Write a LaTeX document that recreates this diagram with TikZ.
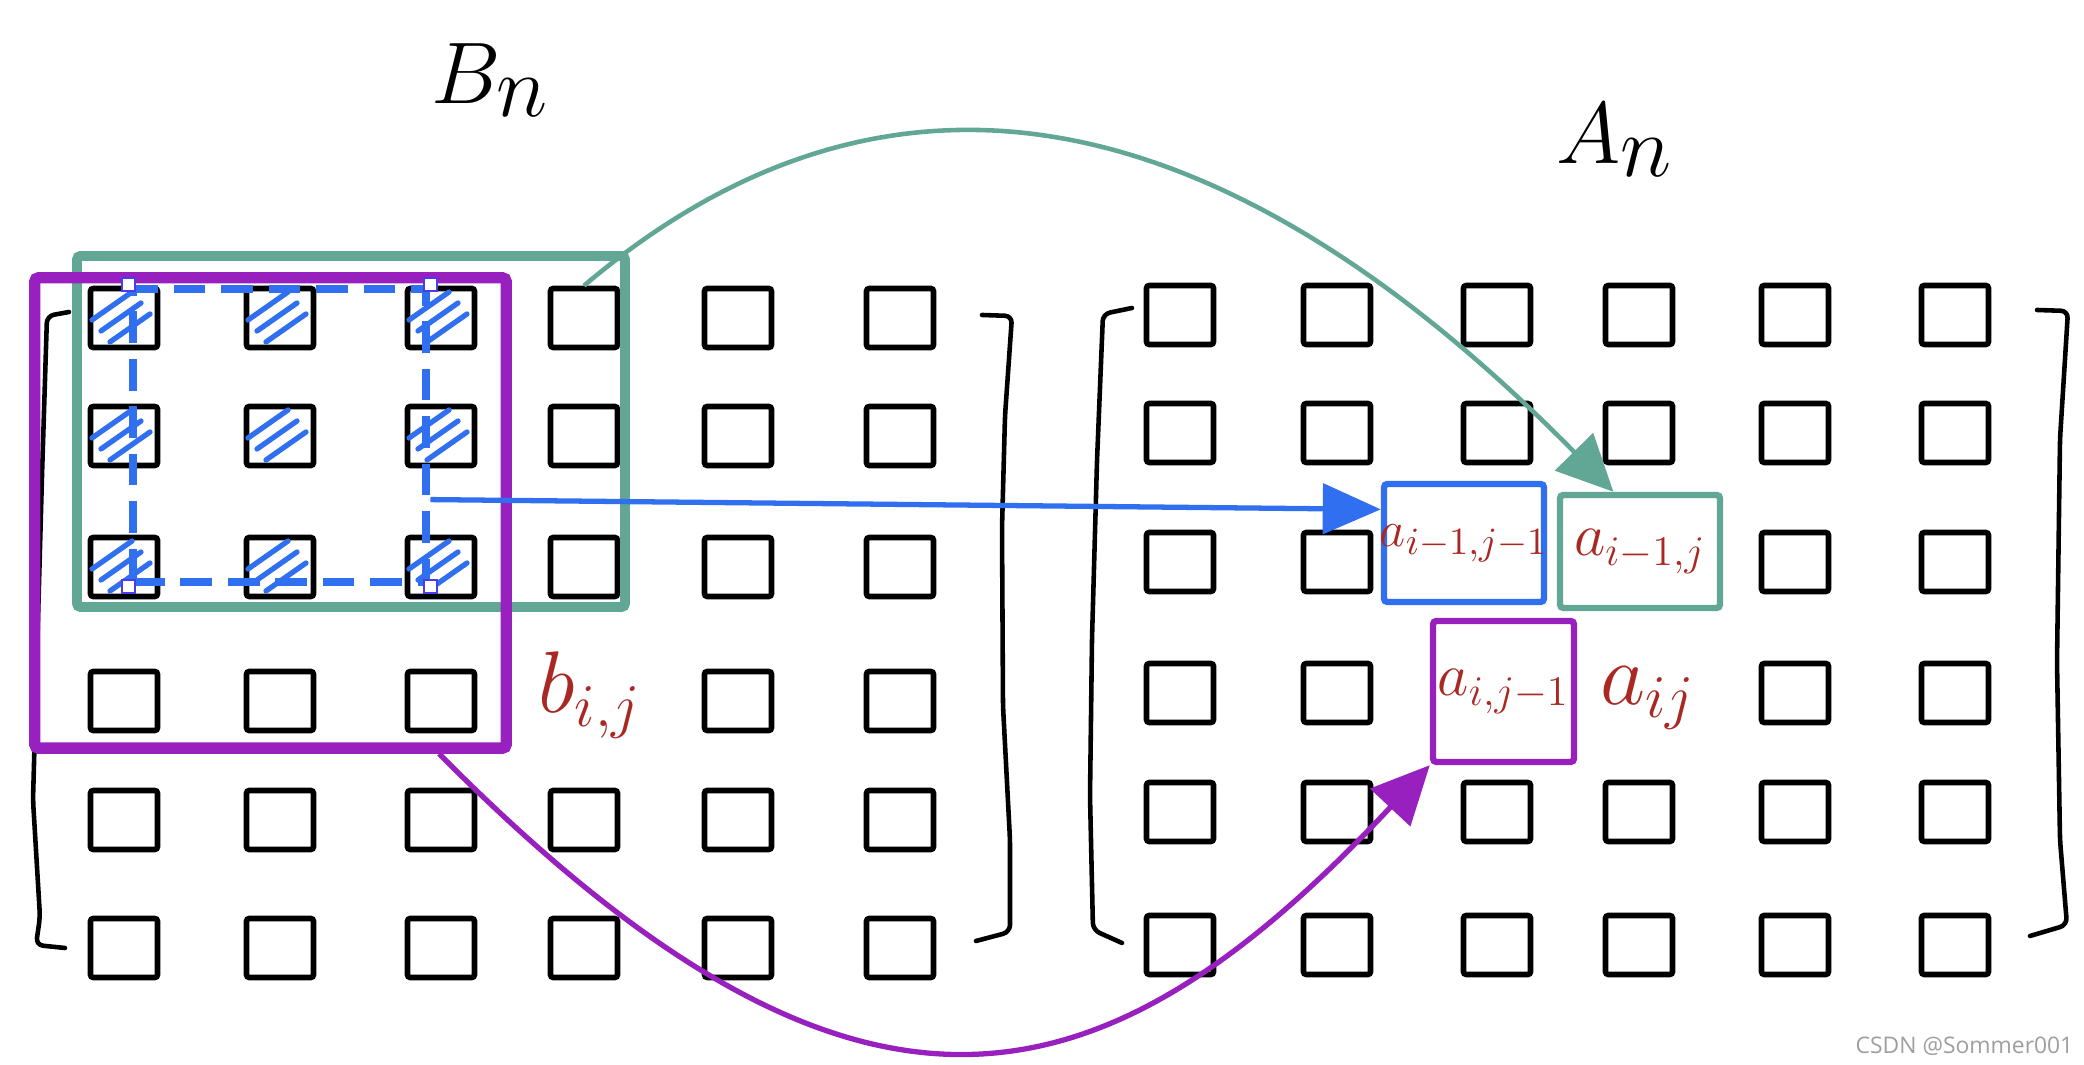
\documentclass[tikz,border=0pt]{standalone}
\usepackage{fontspec}
\usepackage{amsmath}
\usepackage{tikz}
\usetikzlibrary{arrows.meta,positioning,calc}
\newfontfamily\wmfont{Open Sans}
\definecolor{sage}{HTML}{62A696}
\definecolor{grape}{HTML}{9820BE}
\definecolor{azure}{HTML}{3070F0}
\definecolor{rust}{HTML}{AA2823}
\definecolor{gripline}{HTML}{4A3CE8}
\tikzset{
  cell/.style={rectangle, draw=black, line width=1.6pt, rounded corners=0.8pt, minimum width=6.7mm,
               minimum height=5.9mm, inner sep=0pt},
  entry/.style={text=rust, inner sep=0pt, font=\fontsize{16}{19}\selectfont},
  bigentry/.style={entry, font=\fontsize{24}{28}\selectfont},
  pick/.style={rectangle, line width=1.8pt, rounded corners=1pt, inner sep=0pt},
  title/.style={font=\fontsize{38}{44}\selectfont, inner sep=0pt},
  hatch/.style={draw=azure, line width=1.5pt, line cap=round},
  window/.style={rectangle, draw=azure, line width=2.5pt, dash pattern=on 9pt off 4.5pt,
                 minimum width=29.3mm, minimum height=29.3mm, inner sep=0pt},
  grip/.style={rectangle, draw=gripline, fill=white, line width=0.5pt, minimum size=1.3mm, inner sep=0pt},
  bracket/.style={draw=black, line width=1.3pt, line cap=round, line join=round, rounded corners=2pt},
  link/.style={line width=1.3pt}
}

\begin{document}
\begin{tikzpicture}[x=0.01cm, y=-0.01cm]
 \useasboundingbox[fill=white] (0,0) rectangle (2084,1065);
 % B_n cells, (4,4) holds b_{i,j}
 \foreach \x [count=\c] in {124,280,441,584,738,900}
  \foreach \y [count=\r] in {318,436,567,701,820,948}
   {\ifnum\r\c=44 \else \node[cell] (b-\r-\c) at (\x,\y) {}; \fi}
 % A_n cells, the four picked ones are drawn below
 \foreach \x [count=\c] in {1180,1337,1497,1639,1795,1955}
  \foreach \y [count=\r] in {315,433,562,693,812,945}
   {\ifnum\r\c=33 \else\ifnum\r\c=34 \else\ifnum\r\c=43 \else\ifnum\r\c=44 \else
     \node[cell] (a-\r-\c) at (\x,\y) {}; \fi\fi\fi\fi}
 \foreach \r in {1,2,3}
  \foreach \c in {1,2,3}
   \foreach \k in {0,1,2}
    \draw[hatch] ([shift={({-32+9*\k},{2+11*\k})}]b-\r-\c.center) -- ++(40,-28);
 % brackets
 \draw[bracket] (69,312) -- (47,316) -- (42,476) -- (33,800) -- (40,917) -- (36,945) -- (65,948);
 \draw[bracket] (982,315) -- (1012,316) -- (1005,416) -- (1002,528) -- (1003,706) -- (1010,840) -- (1010,932) -- (976,941);
 \draw[bracket] (1132,308) -- (1103,314) -- (1097,461) -- (1092,639) -- (1090,796) -- (1093,930) -- (1122,943);
 \draw[bracket] (2037,310) -- (2068,311) -- (2060,439) -- (2057,662) -- (2060,840) -- (2067,925) -- (2030,936);
 % frames on B_n
 \draw[sage, line width=2.8pt, rounded corners=1pt] (77,256) rectangle (625,607);
 \node[rectangle, draw=grape, line width=3.2pt, rounded corners=1pt, minimum width=47.1mm,
       minimum height=47mm, inner sep=0pt] (bwin) at (270.5,513) {};
 \node[window] (win) at (279.5,435.5) {};
 \foreach \a [count=\i] in {north west,north east,south east,south west}
  \node[grip] (g\i) at (win.\a) {};
 % picked entries of A_n
 \node[pick, draw=azure, minimum width=16mm, minimum height=11.8mm] (aul) at (1464,543) {};
 \node[entry, font=\fontsize{15}{18}\selectfont] at (aul) {$a_{i-1,j-1}$};
 \node[pick, draw=sage, minimum width=16mm, minimum height=11.3mm] (aup) at (1640,551.5) {};
 \node[entry, font=\fontsize{18}{21}\selectfont] at (aup) {$a_{i-1,j}$};
 \node[pick, draw=grape, minimum width=14.1mm, minimum height=14.1mm] (alf) at (1503.5,691.5) {};
 \node[entry, font=\fontsize{17}{20}\selectfont] at (alf) {$a_{i,j-1}$};
 \node[bigentry] (aij) at (1648,698) {$a_{ij}$};
 \node[bigentry] (bij) at (590,695) {$b_{i,j}$};
 \node[title] (bn) at (490,80) {$B_n$};
 \node[title] (an) at (1615,140) {$A_n$};
 % where each value comes from
 \draw[link, azure, line width=1.5pt, -{Triangle[length=16.5pt, width=14.2pt]}] (win.-23) -- (aul.158);
 \draw[link, sage, -{Triangle[length=16pt, width=15pt]}] (b-1-4.north) .. controls (906,13) and (1244,117) .. (aup.114);
 \draw[link, grape, line width=1.5pt, -{Triangle[length=16.5pt, width=15.4pt]}] (bwin.-55) .. controls (859,1177) and (1102,1115) .. (alf.south west);
 \node[font=\wmfont\fontsize{6.5}{8}\selectfont, text=gray!75, anchor=east, inner sep=0pt] (wm) at (2074,1046) {CSDN @Sommer001};
\end{tikzpicture}
\end{document}
